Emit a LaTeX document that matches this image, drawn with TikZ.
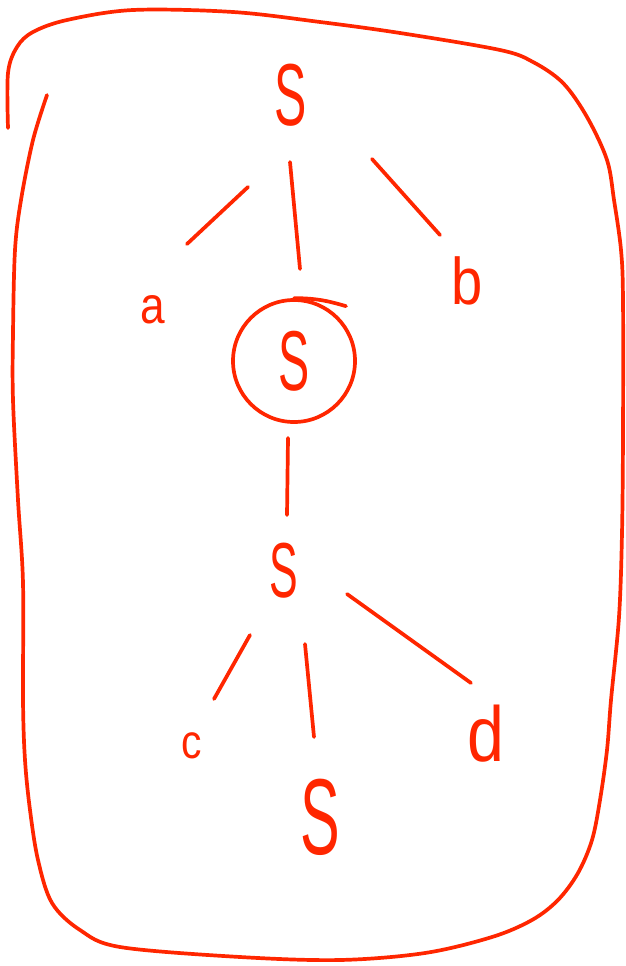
\documentclass[tikz,border=0pt]{standalone}
\usepackage{fontspec}
\usetikzlibrary{calc}
\newfontfamily\handS[FakeStretch=0.55]{Liberation Sans}
\newfontfamily\hand[FakeStretch=0.85]{Liberation Sans}
\definecolor{inkred}{RGB}{255,38,0}
\tikzset{
  ink/.style={draw=inkred, line width=3.7pt, line cap=round, line join=round},
  bigS/.style={text=inkred, inner sep=0pt, font=\handS\fontsize{#1}{#1}\selectfont},
  letter/.style={text=inkred, inner sep=0pt, font=\hand\fontsize{#1}{#1}\selectfont},
}
\begin{document}
\begin{tikzpicture}[x=1pt, y=-1pt]
    \useasboundingbox (0,0) rectangle (625,966);

    % the loop round the whole tree
    \draw[ink] plot[smooth, tension=0.55] coordinates {
        (8,128) (8,73) (17,47) (33,32) (67,20) (133,10) (233,12) (320,22)
        (400,33) (500,50) (533,62) (563,83) (587,117) (607,160) (614,200)
        (621,250) (623,300) (623,433) (622,533) (619,617) (611,700)
        (607,750) (600,800) (592,840) (578,873) (558,900) (532,920)
        (492,937) (425,953) (340,960) (240,957) (120,947) (80,930)
        (52,903) (38,860) (30,810) (25,760) (23,700) (23,583) (18,500)
        (13,400) (13,333) (15,250) (21,200) (33,140) (47,95)};

    \node[bigS=88] (s1) at (291,95) {S};
    \node[letter=52] (a) at (153,310) {a};
    \node[letter=66] (b) at (467,281) {b};
    \node[bigS=85, ink, circle, minimum size=122pt] (s2) at (294,361) {S};
    \draw[ink] (s2.north) .. controls +(25,0) and +(-14,-4) .. ++(52,8);
    \node[bigS=78] (s3) at (284,571) {S};
    \node[letter=48] (c) at (192,746) {c};
    \node[letter=78] (d) at (486,734) {d};
    \node[bigS=108] (s4) at (320,817) {S};

    % branches
    \draw[ink] ($(s1)+(-43,92)$) -- ($(a)+(34,-66)$);
    \draw[ink] ($(s1)+(-1,67)$) -- ($(s2)+(6,-92)$);
    \draw[ink] ($(s1)+(81,64)$) -- ($(b)+(-27,-46)$);
    \draw[ink] ($(s2)+(-6,77)$) -- ($(s3)+(3,-56)$);
    \draw[ink] ($(s3)+(-34,64)$) -- ($(c)+(22,-47)$);
    \draw[ink] ($(s3)+(21,73)$) -- ($(s4)+(-6,-80)$);
    \draw[ink] ($(s3)+(63,23)$) -- ($(d)+(-15,-51)$);
\end{tikzpicture}
\end{document}
